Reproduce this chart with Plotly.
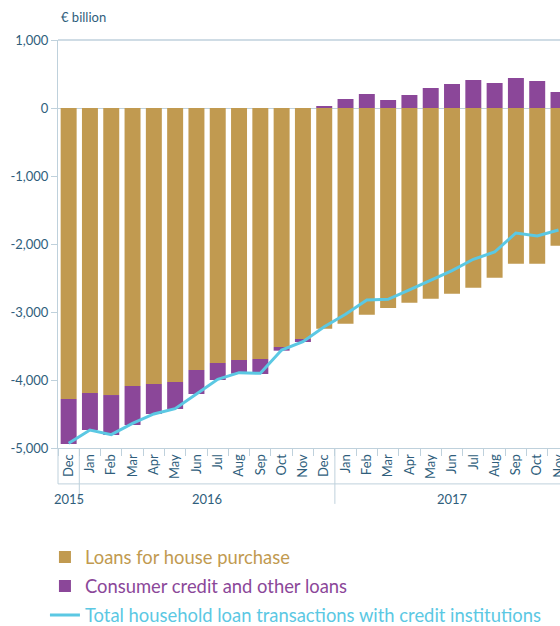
import plotly.graph_objects as go

months = ["Dec", "Jan", "Feb", "Mar", "Apr", "May", "Jun", "Jul", "Aug", "Sep", "Oct", "Nov",
          "Dec", "Jan", "Feb", "Mar", "Apr", "May", "Jun", "Jul", "Aug", "Sep", "Oct", "Nov"]
years = ["2015"] + ["2016"] * 12 + ["2017"] * 11

house_purchase = [-4279, -4191, -4221, -4088, -4059, -4029, -3853, -3750, -3706, -3691, -3515, -3397,
                  -3245, -3172, -3040, -2941, -2863, -2804, -2730, -2642, -2495, -2289, -2289, -2025]
consumer_credit = [-662, -544, -588, -574, -441, -397, -353, -250, -201, -221, -54, -44,
                   15, 132, 206, 118, 191, 294, 353, 412, 368, 441, 397, 235]
total_loans = [-4931, -4735, -4804, -4637, -4500, -4422, -4206, -3990, -3892, -3902, -3559, -3436,
               -3216, -3034, -2824, -2814, -2676, -2529, -2392, -2225, -2118, -1838, -1882, -1794]

y_tickvals = [1000, 0, -1000, -2000, -3000, -4000, -5000]
y_ticktext = ["1,000", "0", "-1,000", "-2,000", "-3,000", "-4,000", "-5,000"]

year_labels = ["2015", "2016", "2017"]
year_centers = [0, 6.5, 18]      # category-index centres of each year group
year_bounds = [0.5, 12.5]        # category-index boundaries between year groups

GOLD = "#C19A50"
PURPLE = "#8B4799"
CYAN = "#5BC8E3"
AXIS = "#BFD1DC"
TEXT = "#2F5E7C"

periods = [f"{m} {y}" for m, y in zip(months, years)]

fig = go.Figure()
fig.add_trace(go.Bar(x=periods, y=house_purchase, marker_color=GOLD, marker_line_width=0,
                     legendgroup="a",
                     name='<span style="color:%s">Loans for house purchase</span>' % GOLD))
fig.add_trace(go.Bar(x=periods, y=consumer_credit, marker_color=PURPLE, marker_line_width=0,
                     legendgroup="b",
                     name='<span style="color:%s">Consumer credit and other loans</span>' % PURPLE))
fig.add_trace(go.Scatter(x=periods, y=total_loans, mode="lines", line=dict(color=CYAN, width=3),
                         legendgroup="c",
                         name='<span style="color:%s">Total household loan transactions with credit institutions</span>' % CYAN))

annotations = [dict(text="€ billion", xref="paper", yref="paper", x=0.002, y=1.056,
                    xanchor="left", yanchor="middle", showarrow=False,
                    font=dict(size=13, color=TEXT))]
for lab, c in zip(year_labels, year_centers):
    annotations.append(dict(text=lab, xref="x", yref="paper", x=c, y=-0.125,
                            xanchor="center", yanchor="middle", showarrow=False,
                            font=dict(size=13, color=TEXT)))

shapes = [
    dict(type="line", xref="paper", yref="paper", x0=0, x1=1, y0=1, y1=1,
         line=dict(color=AXIS, width=1.5), layer="below"),
    dict(type="line", xref="paper", yref="paper", x0=0, x1=1, y0=-0.088, y1=-0.088,
         line=dict(color=AXIS, width=1)),
    dict(type="line", xref="paper", yref="paper", x0=0, x1=0, y0=0, y1=-0.088,
         line=dict(color=AXIS, width=1)),
]
for b in year_bounds:
    shapes.append(dict(type="line", xref="x", yref="paper", x0=b, x1=b, y0=0, y1=-0.137,
                       line=dict(color=AXIS, width=1)))

fig.update_layout(
    width=560, height=626,
    margin=dict(l=58, r=0, t=40, b=178, autoexpand=False),
    paper_bgcolor="white", plot_bgcolor="white",
    barmode="relative", bargap=0.25,
    font=dict(family="Lato", size=13, color=TEXT),
    showlegend=True,
    legend=dict(orientation="v", x=-0.026, xanchor="left", y=-0.222, yanchor="top",
                font=dict(size=18.4), traceorder="grouped", tracegroupgap=2,
                bgcolor="rgba(0,0,0,0)"),
    xaxis=dict(type="category", range=[-0.5, 23.07], tickvals=periods, ticktext=months,
               tickson="boundaries", showline=True, linecolor=AXIS,
               linewidth=1, ticks="outside", ticklen=7, tickcolor=AXIS, tickangle=-90,
               showgrid=False, automargin=False, tickfont=dict(size=13, color=TEXT)),
    yaxis=dict(range=[-5000, 1000], tickvals=y_tickvals, ticktext=y_ticktext,
               showline=True, linecolor=AXIS, linewidth=1, ticks="outside", ticklen=6,
               tickcolor=AXIS, showgrid=False, zeroline=True, zerolinecolor=AXIS,
               zerolinewidth=1, automargin=False, tickfont=dict(size=13, color=TEXT)),
    annotations=annotations,
    shapes=shapes,
)

fig.write_html("out.html", config={"displayModeBar": False},
               post_script="document.body.style.margin='0';")
